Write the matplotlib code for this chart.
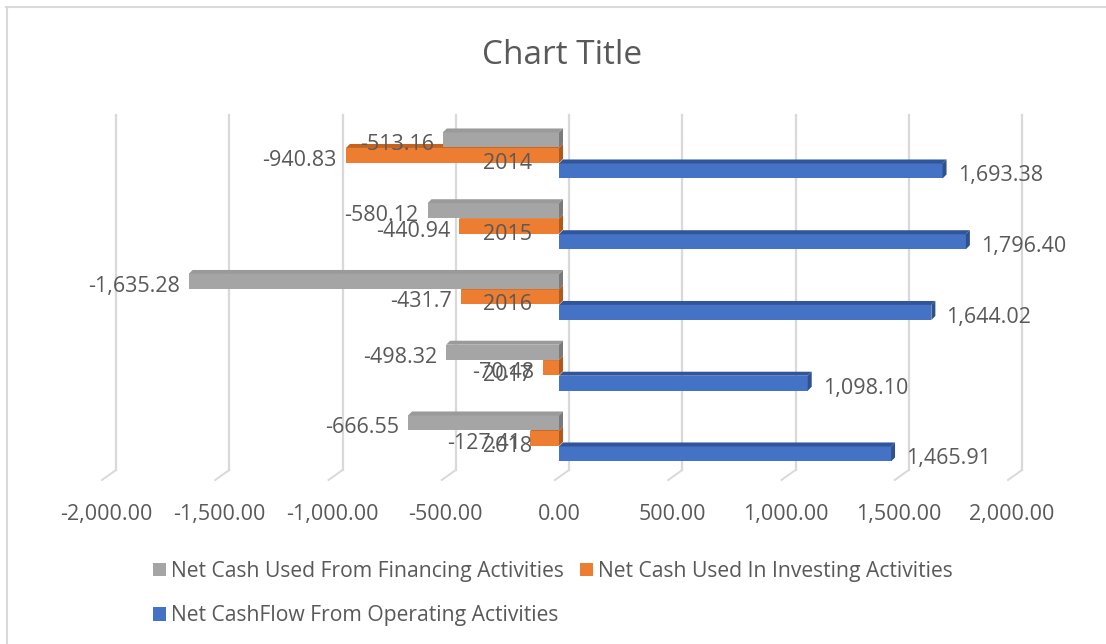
import matplotlib
matplotlib.use("Agg")
import matplotlib.pyplot as plt
from matplotlib.patches import Rectangle, Polygon
from matplotlib.lines import Line2D

years = ["2014", "2015", "2016", "2017", "2018"]
financing = [-513.16, -580.12, -1635.28, -498.32, -666.55]
investing = [-940.83, -440.94, -431.7, -70.48, -127.41]
operating = [1693.38, 1796.40, 1644.02, 1098.10, 1465.91]
financing_labels = ["-513.16", "-580.12", "-1,635.28", "-498.32", "-666.55"]
investing_labels = ["-940.83", "-440.94", "-431.7", "-70.48", "-127.41"]
operating_labels = ["1,693.38", "1,796.40", "1,644.02", "1,098.10", "1,465.91"]
x_ticks = [-2000, -1500, -1000, -500, 0, 500, 1000, 1500, 2000]

series_names = [
    "Net Cash Used From Financing Activities",
    "Net Cash Used In Investing Activities",
    "Net CashFlow From Operating Activities",
]
colors = ["#A5A5A5", "#ED7D31", "#4472C4"]
top_colors = ["#9a9a9a", "#c4631f", "#30559a"]
side_colors = ["#7b7b7b", "#ae5a1e", "#2f528f"]
TEXT = "#595959"
GRID = "#D9D9D9"
FONT = ["Open Sans", "DejaVu Sans"]
plt.rcParams["font.family"] = FONT

W, H = 1106, 644
fig = plt.figure(figsize=(W / 100, H / 100), dpi=100)
fig.patch.set_facecolor("white")

ax_l, ax_r, ax_t, ax_b = 106, 1012, 115, 480
ax = fig.add_axes([ax_l / W, 1 - ax_b / H, (ax_r - ax_l) / W, (ax_b - ax_t) / H])
xmin, xmax = -2000, 2000
ymin, ymax = 4.587, -0.572
ax.set_xlim(xmin, xmax)
ax.set_ylim(ymin, ymax)

px_x = (ax_r - ax_l) / (xmax - xmin)      # pixels per x unit
px_y = (ax_b - ax_t) / (ymin - ymax)      # pixels per category unit

# back-wall gridlines (shifted like Excel's 3D view) with floor ticks
grid_shift = 10 / px_x
floor_shift = -4 / px_x
wall_floor = 10 / (ax_b - ax_t)
tr = ax.get_xaxis_transform()
for t in x_ticks:
    ax.add_line(Line2D([t + grid_shift, t + grid_shift], [wall_floor, 1.0], transform=tr,
                       color=GRID, lw=1.6, zorder=0, clip_on=False))
    ax.add_line(Line2D([t + grid_shift, t + floor_shift], [wall_floor, 0.0], transform=tr,
                       color=GRID, lw=1.4, zorder=0, clip_on=False))

step = 15.5 / px_y
h2 = 7.5 / px_y
dx = 4 / px_x
dy = 4 / px_y


def bar3d(v, c, k):
    a, b = min(v, 0), max(v, 0)
    top = c - h2
    ax.add_patch(Rectangle((a, top), b - a, 2 * h2, facecolor=colors[k], edgecolor="none", zorder=2))
    ax.add_patch(Polygon([(a, top), (b, top), (b + dx, top - dy), (a + dx, top - dy)],
                         facecolor=top_colors[k], edgecolor="none", zorder=2))
    ax.add_patch(Polygon([(b, top), (b + dx, top - dy), (b + dx, top + 2 * h2 - dy), (b, top + 2 * h2)],
                         facecolor=side_colors[k], edgecolor="none", zorder=2))


series = [financing, investing, operating]
labels = [financing_labels, investing_labels, operating_labels]
for k in [2, 1, 0]:
    for i, v in enumerate(series[k]):
        bar3d(v, i + (k - 1) * step, k)

for k in range(3):
    for i, v in enumerate(series[k]):
        c = i + (k - 1) * step
        if v < 0:
            ax.annotate(labels[k][i], (v, c), xytext=(-9, -5), textcoords="offset pixels",
                        ha="right", va="center", fontsize=15.5, color=TEXT, zorder=5)
        else:
            ax.annotate(labels[k][i], (v, c), xytext=(15, -5), textcoords="offset pixels",
                        ha="left", va="center", fontsize=15.5, color=TEXT, zorder=5)

for i, y in enumerate(years):
    ax.annotate(y, (0, i), xytext=(-27, -8), textcoords="offset pixels",
                ha="right", va="center", fontsize=15.5, color=TEXT, zorder=6)

ax.set_xticks(x_ticks)
ax.set_xticklabels([f"{t:,.2f}" for t in x_ticks], fontsize=15.5, color=TEXT)
ax.set_yticks([])
ax.tick_params(axis="x", length=0, pad=17)
for s in ax.spines.values():
    s.set_visible(False)
ax.set_facecolor("none")

fig.text(562 / W, 1 - 56 / H, "Chart Title", ha="center", va="center", fontsize=24, color=TEXT)

handles = [Rectangle((0, 0), 1, 1, facecolor=c, edgecolor="none") for c in colors]
order = [0, 2, 1]
fig.legend([handles[i] for i in order], [series_names[i] for i in order], ncol=2,
           loc="upper left", bbox_to_anchor=(153 / W, 1 - 561 / H), frameon=False,
           fontsize=15.2, handlelength=0.62, handleheight=0.62, handletextpad=0.24,
           columnspacing=0.75, labelspacing=1.1, borderpad=0, borderaxespad=0,
           labelcolor=TEXT)

# chart border (top and left edges visible)
fig.add_artist(Line2D([6 / W, 1], [1 - 7 / H, 1 - 7 / H], transform=fig.transFigure, color=GRID, lw=1.5))
fig.add_artist(Line2D([6.5 / W, 6.5 / W], [0, 1 - 7 / H], transform=fig.transFigure, color=GRID, lw=1.5))

fig.savefig("out.png", dpi=100)
